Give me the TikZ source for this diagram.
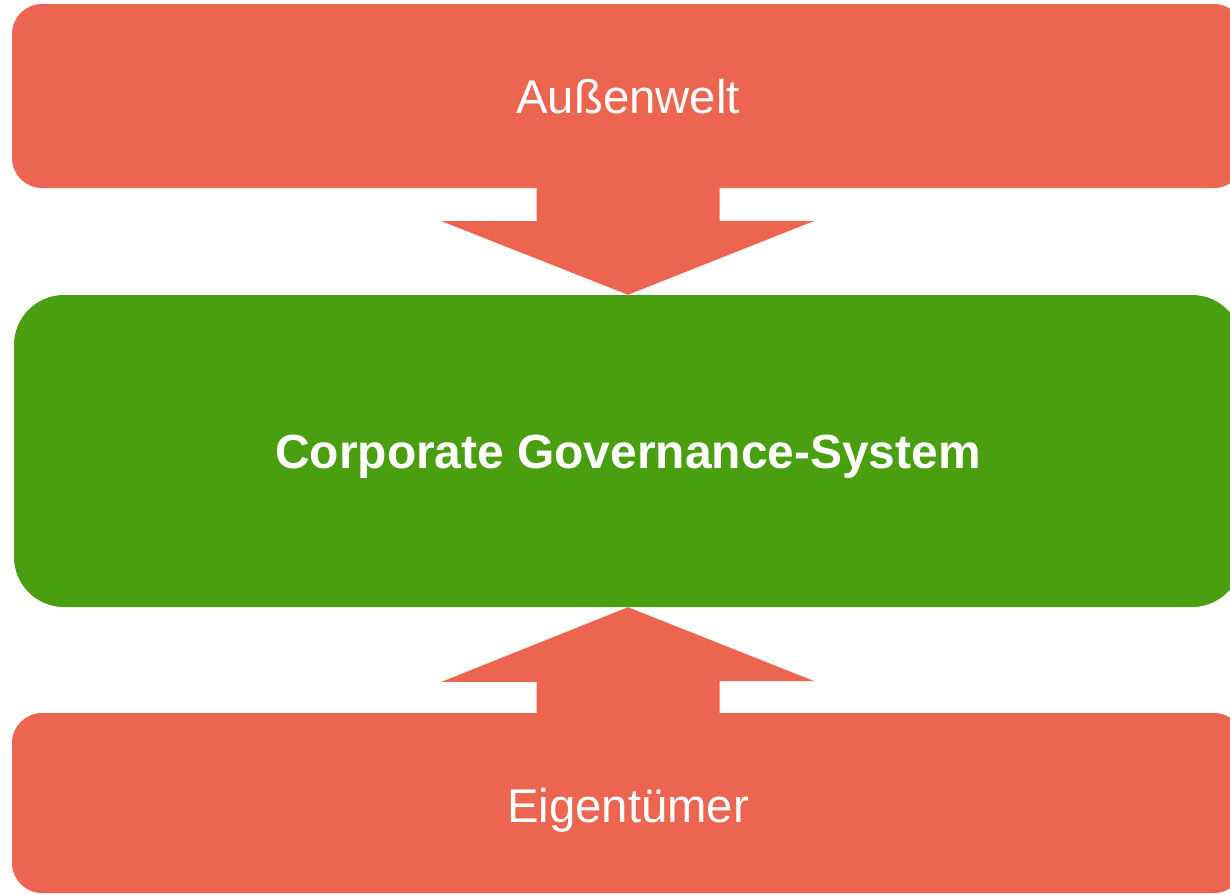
\documentclass[tikz,border=0pt]{standalone}
\usepackage{fontspec}
\setmainfont{Liberation Sans}
\usetikzlibrary{calc}
\definecolor{boxred}{RGB}{236,101,80}
\definecolor{boxgreen}{RGB}{74,159,16}
\begin{document}
\begin{tikzpicture}[x=1pt,y=-1pt,
  panel/.style={fill=#1, draw=none, inner sep=0pt},
  caption/.style={anchor=base, text=white, inner sep=0pt,
    font=\fontsize{47.3}{52}\selectfont},
  bigarrow/.style={fill=boxred, draw=none}]
  \useasboundingbox (0,0) rectangle (1230,894);
  % three stacked panels
  \node[panel=boxred, rounded corners=30pt, minimum width=1232pt, minimum height=184pt]
    (outer) at (628,96) {};
  \node[panel=boxgreen, rounded corners=50pt, minimum width=1228pt, minimum height=312pt]
    (cgs) at (628,451) {};
  \node[panel=boxred, rounded corners=30pt, minimum width=1232pt, minimum height=180pt]
    (owner) at (628,803) {};
  % captions
  \node[caption] (outertext) at ($(outer.center)+(0,17.3)$) {Außenwelt};
  \node[caption, font=\fontsize{47.9}{52}\selectfont\bfseries] (cgstext)
    at ($(cgs.center)+(0,17.3)$) {Corporate Governance-System};
  \node[caption] (ownertext) at ($(owner.center)+(0,19.3)$) {Eigentümer};
  % block arrow from the outside world down to the governance system
  \fill[bigarrow] ($(outer.south)+(-91.5,0)$) -- ++(0,33) -- ++(-95,0)
    -- (cgs.north) -- ++(186.5,-74) -- ++(-95,0) -- ($(outer.south)+(91.5,0)$) -- cycle;
  % block arrow from the owners up to the governance system
  \fill[bigarrow] ($(owner.north)+(-91.5,0)$) -- ++(0,-31) -- ++(-95,0)
    -- (cgs.south) -- ++(186.5,74) -- ++(-95,0) -- ($(owner.north)+(91.5,0)$) -- cycle;
\end{tikzpicture}
\end{document}
